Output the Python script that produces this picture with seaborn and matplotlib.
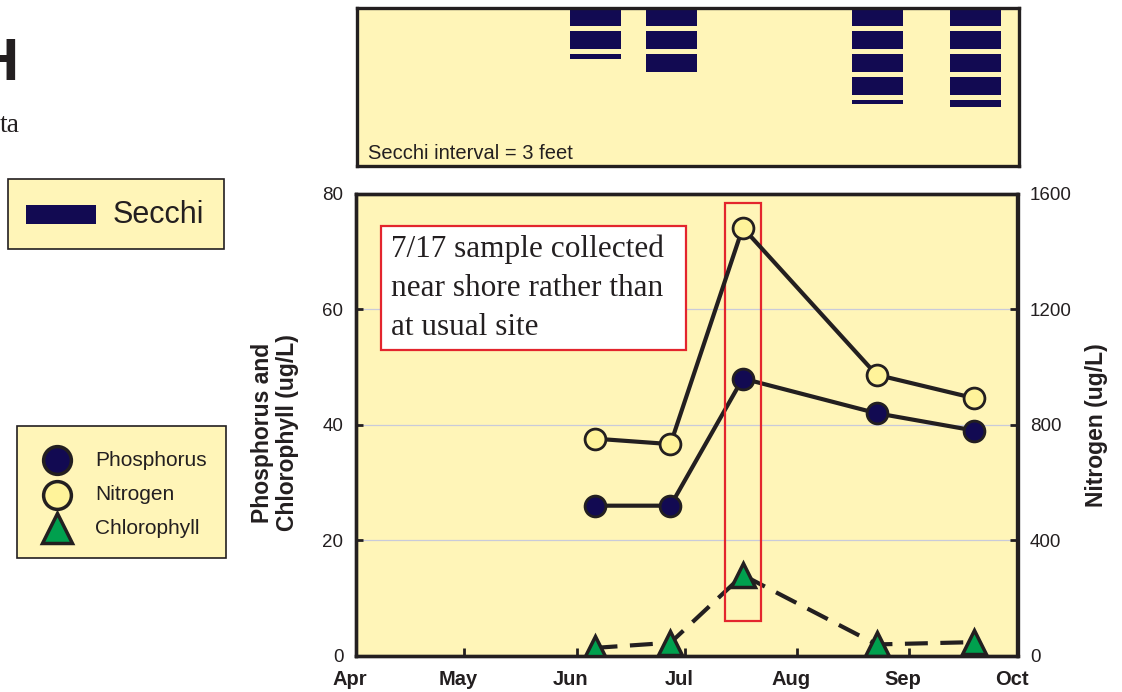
import numpy as np
import pandas as pd
import matplotlib
matplotlib.use("Agg")
import matplotlib.pyplot as plt
import matplotlib.transforms as mtransforms
from matplotlib.patches import Rectangle
from matplotlib.lines import Line2D
import seaborn as sns

# ---------------- data ----------------
season_start = "2021-04-01"
month_labels = ["Apr", "May", "Jun", "Jul", "Aug", "Sep", "Oct"]
month_starts = ["2021-04-01", "2021-05-01", "2021-06-01", "2021-07-01",
                "2021-08-01", "2021-09-01", "2021-10-01"]
sample_dates = ["2021-06-06", "2021-06-27", "2021-07-17", "2021-08-23", "2021-09-19"]
phosphorus = [26, 26, 48, 42, 39]          # ug/L (left axis)
chlorophyll = [1.4, 2.3, 14.0, 2.0, 2.4]   # ug/L (left axis)
nitrogen = [752, 733, 1482, 973, 892]      # ug/L (right axis)
secchi_dates = ["2021-06-06", "2021-06-27", "2021-08-23", "2021-09-19"]
secchi_ft = [6.65, 8.4, 12.6, 12.95]       # feet
secchi_interval = 3

# ---------------- styling ----------------
sns.set_theme(style="white")
plt.rcParams["font.family"] = ["Liberation Sans", "DejaVu Sans"]

BG = "#FFF5B8"
NAVY = "#120A52"
INK = "#231F20"
NFILL = "#FFF39A"
GREEN = "#00A04E"
RED = "#E3252D"

W, H = 1122, 692
fig = plt.figure(figsize=(W / 100, H / 100), dpi=100)
fig.patch.set_facecolor("white")

t0 = pd.Timestamp(season_start)
def to_day(ds):
    return [(pd.Timestamp(d) - t0).days for d in ds]

month_x = to_day(month_starts)
df = pd.DataFrame({"day": to_day(sample_dates), "P": phosphorus,
                   "Chl": chlorophyll, "N": nitrogen})
sdf = pd.DataFrame({"day": to_day(secchi_dates), "depth": secchi_ft})

# ---------------- top Secchi panel ----------------
ax_top = fig.add_axes([356.5 / W, 1 - 165.5 / H, (1018.5 - 356.5) / W, (165.5 - 7.5) / H])
ax_top.set_facecolor(BG)
ax_top.bar(sdf["day"], sdf["depth"], width=14.1, bottom=0, color=NAVY, lw=0, zorder=2)
for k in range(1, 8):
    ax_top.axhspan(k * secchi_interval - 0.57, k * secchi_interval, color=BG, lw=0, zorder=2.1)
ax_top.set_xlim(month_x[0], month_x[-1])
ax_top.set_ylim(20.6, 0)
ax_top.set_xticks([]); ax_top.set_yticks([])
for s in ax_top.spines.values():
    s.set_linewidth(2.4); s.set_color(INK); s.set_visible(True); s.set_zorder(5)
ax_top.text(0.017, 0.079, "Secchi interval = 3 feet", transform=ax_top.transAxes,
            ha="left", va="center", fontsize=14.5, color=INK, zorder=6)

# ---------------- main panel ----------------
ax = fig.add_axes([356 / W, 1 - 656 / H, (1017.5 - 356) / W, (656 - 193.5) / H])
ax.set_facecolor(BG)
ax2 = ax.twinx()
ax2.patch.set_visible(False)

sns.lineplot(data=df, x="day", y="P", ax=ax, color=INK, lw=3, marker="o",
             markersize=15, markerfacecolor=NAVY, markeredgecolor=INK,
             markeredgewidth=2, zorder=4)
sns.lineplot(data=df, x="day", y="Chl", ax=ax, color=INK, lw=3, marker="^",
             linestyle=(0, (5.5, 3)), markersize=17, markerfacecolor=GREEN,
             markeredgecolor=INK, markeredgewidth=2.5, zorder=4)
sns.lineplot(data=df, x="day", y="N", ax=ax2, color=INK, lw=3, marker="o",
             markersize=15, markerfacecolor=NFILL, markeredgecolor=INK,
             markeredgewidth=2, zorder=4)

ax.set_xlim(month_x[0], month_x[-1])
ax.set_ylim(0, 80)
ax2.set_ylim(0, 1600)
ax.set_yticks([0, 20, 40, 60, 80])
ax2.set_yticks([0, 400, 800, 1200, 1600])
ax.set_xticks(month_x)
ax.set_xticklabels(month_labels, fontweight="bold", fontsize=14.5)
ax.yaxis.grid(True, color="#C9CBDA", lw=0.9)
ax.set_axisbelow(True)
ax.set_xlabel(""); ax.set_ylabel(""); ax2.set_ylabel(""); ax2.set_xlabel("")
ax.tick_params(axis="x", direction="in", length=6, width=2, color=INK,
               labelcolor=INK, pad=10, bottom=True)
ax.tick_params(axis="y", direction="in", length=5, width=2, color=INK,
               labelcolor=INK, labelsize=13.5, pad=9, left=True)
ax2.tick_params(axis="y", direction="in", length=5, width=2, color=INK,
                labelcolor=INK, labelsize=13.5, pad=9, right=True)
for lab in ax.get_xticklabels():
    lab.set_transform(lab.get_transform() +
                      mtransforms.ScaledTranslation(-6 / 100, 0, fig.dpi_scale_trans))
for a in (ax, ax2):
    for s in a.spines.values():
        s.set_linewidth(2.4); s.set_color(INK); s.set_visible(True)

# red highlight around the 7/17 sample
ax2.add_patch(Rectangle((102.1, 6.05), 9.9, 72.35, transform=ax.transData,
                        fill=False, ec=RED, lw=1.6, zorder=3))

# axis titles
fig.text(275 / W, 1 - 433 / H, "Phosphorus and\nChlorophyll (ug/L)", rotation=90,
         ha="center", va="center", fontsize=16.5, fontweight="bold", color=INK,
         linespacing=1.1)
fig.text(1096 / W, 1 - 425 / H, "Nitrogen (ug/L)", rotation=90, ha="center",
         va="center", fontsize=16.5, fontweight="bold", color=INK)

# ---------------- overlay (legends, notes, title fragments) ----------------
ov = fig.add_axes([0, 0, 1, 1], zorder=10)
ov.set_xlim(0, W); ov.set_ylim(H, 0)
ov.axis("off")
ov.patch.set_visible(False)

# annotation box
ov.add_patch(Rectangle((381, 226), 305, 124, fc="white", ec=RED, lw=1.6))
ov.text(391, 288, "7/17 sample collected\nnear shore rather than\nat usual site",
        ha="left", va="center", fontsize=22.5, family=["Liberation Serif", "DejaVu Serif"],
        color=INK, linespacing=1.45)

# Secchi legend
ov.add_patch(Rectangle((8, 179), 216, 70, fc=BG, ec=INK, lw=1.2))
ov.add_patch(Rectangle((26, 205), 70, 19, fc=NAVY, ec="none"))
ov.text(113, 215, "Secchi", ha="left", va="center", fontsize=22, color=INK)

# marker legend
ov.add_patch(Rectangle((17, 426), 209, 132, fc=BG, ec=INK, lw=1.2))
leg_items = [("Phosphorus", "o", NAVY, 20, 460),
             ("Nitrogen", "o", NFILL, 20, 495),
             ("Chlorophyll", "^", GREEN, 22, 528)]
for name, m, fc, ms, yy in leg_items:
    ov.add_line(Line2D([57], [yy], marker=m, markersize=ms, markerfacecolor=fc,
                       markeredgecolor=INK, markeredgewidth=2.5, linestyle="none"))
    ov.text(95, yy, name, ha="left", va="center", fontsize=15, color=INK)

# clipped title fragments at left edge
fig.text(19 / W, 1 - 80 / H, "H", ha="right", va="baseline", fontsize=43,
         fontweight="bold", color=INK)
fig.text(20 / W, 1 - 132 / H, "ta", ha="right", va="baseline", fontsize=20,
         family=["Liberation Serif", "DejaVu Serif"], color=INK)

fig.savefig("out.png", dpi=100)
